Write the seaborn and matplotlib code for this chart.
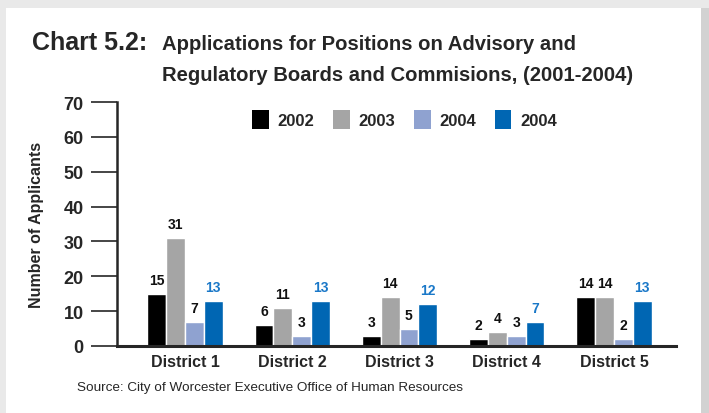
import matplotlib
matplotlib.use("Agg")
import matplotlib.pyplot as plt
import seaborn as sns
import pandas as pd
from matplotlib.patches import Rectangle, Patch

# dados do grafico
districts = ["District 1", "District 2", "District 3", "District 4", "District 5"]
series_keys = ["2002", "2003", "2004a", "2004b"]
legend_labels = ["2002", "2003", "2004", "2004"]
apps_2002 = [15, 6, 3, 2, 14]
apps_2003 = [31, 11, 14, 4, 14]
apps_2004a = [7, 3, 5, 3, 2]
apps_2004b = [13, 13, 12, 7, 13]

cores = {"2002": "#000000", "2003": "#a5a5a5", "2004a": "#8fa2d0", "2004b": "#0066b3"}
cor_rotulo = ["#111111", "#111111", "#111111", "#1a78c8"]

df = pd.DataFrame({
    "district": districts * 4,
    "series": sum([[k] * 5 for k in series_keys], []),
    "value": apps_2002 + apps_2003 + apps_2004a + apps_2004b,
})

sns.set_style("white")
plt.rcParams["font.family"] = ["Liberation Sans", "DejaVu Sans"]

fig = plt.figure(figsize=(7.09, 4.14), dpi=100)
fig.patch.set_facecolor("#e9e9e9")
# painel branco e sombra
fig.patches.append(Rectangle((6 / 709, 0), 695 / 709, 1 - 9 / 414, transform=fig.transFigure,
                             facecolor="white", edgecolor="none", zorder=-5))
fig.patches.append(Rectangle((701 / 709, 0), 8 / 709, 1 - 9 / 414, transform=fig.transFigure,
                             facecolor="#d2d2d2", edgecolor="none", zorder=-5))

ax = fig.add_axes([117 / 709, 1 - 347 / 414, (676 - 117) / 709, (347 - 103) / 414])
ax.set_facecolor("none")

sns.barplot(data=df, x="district", y="value", hue="series", hue_order=series_keys,
            palette=cores, width=0.7, gap=0, saturation=1, ax=ax, legend=False)

for cont, c in zip(ax.containers, cor_rotulo):
    ax.bar_label(cont, padding=5, color=c, fontsize=10, fontweight="bold")

ax.set_ylim(0, 70)
ax.set_xlim(-0.634, 4.578)
ax.set_yticks(range(0, 71, 10))
ax.set_xlabel("")
ax.set_ylabel("Number of Applicants", fontsize=11.5, fontweight="bold")
ax.yaxis.set_label_coords(-0.131, 0.5)

for s in ["top", "right"]:
    ax.spines[s].set_visible(False)
ax.spines["left"].set_linewidth(1.8)
ax.spines["bottom"].set_linewidth(2.2)
ax.tick_params(axis="y", direction="out", length=19, width=1.2, pad=5, labelsize=13, left=True)
ax.tick_params(axis="x", length=0, pad=6, labelsize=11.5)
for t in ax.get_yticklabels() + ax.get_xticklabels():
    t.set_fontweight("bold")

handles = [Patch(facecolor=cores[k], edgecolor="none") for k in series_keys]
fig.legend(handles, legend_labels, loc="upper left", bbox_to_anchor=(252 / 709, 1 - 111 / 414),
           ncol=4, frameon=False, prop={"weight": "bold", "size": 12},
           handlelength=1.0, handleheight=1.35, handletextpad=0.55, columnspacing=1.1,
           borderpad=0, borderaxespad=0)

fig.text(32 / 709, 1 - 50 / 414, "Chart 5.2:", fontsize=18, fontweight="bold", va="baseline")
fig.text(162 / 709, 1 - 50 / 414, "Applications for Positions on Advisory and",
         fontsize=14.6, fontweight="bold", va="baseline")
fig.text(162 / 709, 1 - 81 / 414, "Regulatory Boards and Commisions, (2001-2004)",
         fontsize=14.6, fontweight="bold", va="baseline")
fig.text(77 / 709, 1 - 388 / 414, "Source: City of Worcester Executive Office of Human Resources",
         fontsize=9.7, va="center")

fig.savefig("out.png", dpi=100, facecolor=fig.get_facecolor())
